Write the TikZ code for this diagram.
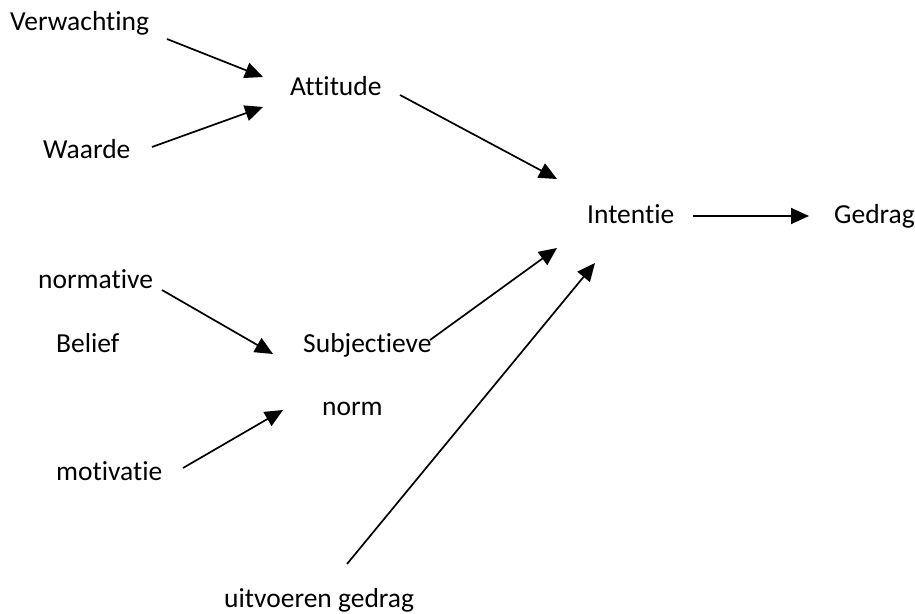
\documentclass[tikz,border=0pt]{standalone}
\usepackage{fontspec}
\setmainfont[Ligatures=NoCommon]{Carlito}
\usetikzlibrary{arrows.meta}
\begin{document}
\begin{tikzpicture}[x=1pt,y=-1pt,
  lbl/.style={anchor=base west,inner sep=0pt,font=\fontsize{27.5}{33}\selectfont},
  conn/.style={line width=1.7pt,-{Triangle[length=18pt,width=16pt]}}]
\useasboundingbox (0,0) rectangle (915,613);
\node[lbl] (verw) at (10,30) {Verwachting};
\node[lbl] (att) at (290,95) {Attitude};
\node[lbl] (waarde) at (43,158) {Waarde};
\node[lbl] (int) at (587,223) {Intentie};
\node[lbl] (gedrag) at (834,223) {Gedrag};
\node[lbl] (normative) at (38,288) {normative};
\node[lbl] (belief) at (56,352) {Belief};
\node[lbl] (subj) at (303,352) {Subjectieve};
\node[lbl] (norm) at (322,415) {norm};
\node[lbl] (motiv) at (56,480) {motivatie};
\node[lbl] (uitv) at (224,607) {uitvoeren gedrag};
% connector end points
\coordinate (verwS) at (167,39);
\coordinate (attIn1) at (263,77);
\coordinate (waardeS) at (152,147);
\coordinate (attIn2) at (263,107);
\coordinate (attS) at (400,95);
\coordinate (intIn1) at (557,179);
\coordinate (intS) at (693,216);
\coordinate (gedIn) at (809,216);
\coordinate (normativeS) at (162,290);
\coordinate (subjIn1) at (273,354);
\coordinate (motivS) at (183,468);
\coordinate (subjIn2) at (283,410);
\coordinate (subjS) at (430,340);
\coordinate (intIn2) at (557,248);
\coordinate (uitvS) at (347,564);
\coordinate (intIn3) at (595,263);
\draw[conn] (verwS) -- (attIn1);
\draw[conn] (waardeS) -- (attIn2);
\draw[conn] (attS) -- (intIn1);
\draw[conn] (intS) -- (gedIn);
\draw[conn] (normativeS) -- (subjIn1);
\draw[conn] (motivS) -- (subjIn2);
\draw[conn] (subjS) -- (intIn2);
\draw[conn] (uitvS) -- (intIn3);
\end{tikzpicture}
\end{document}
